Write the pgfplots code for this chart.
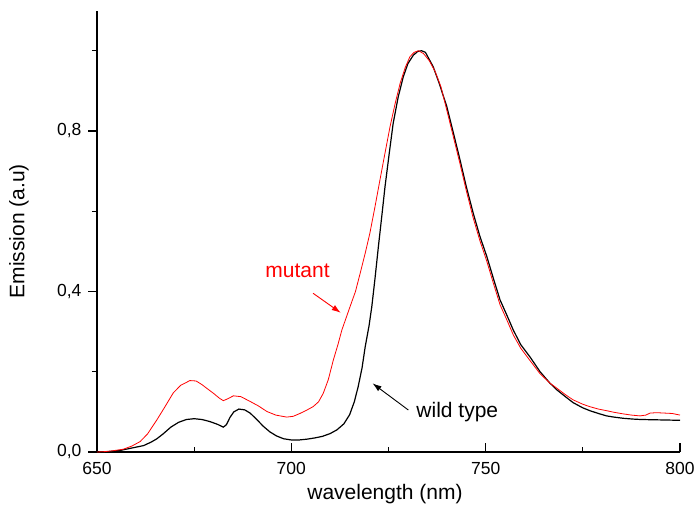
\documentclass[border=0pt]{standalone}
\usepackage{fontspec}
\setmainfont{Liberation Sans}
\usepackage{pgfplots}
\pgfplotsset{compat=1.18}
\usetikzlibrary{arrows.meta}
\newcommand{\chartfont}{\fontsize{21}{25}\selectfont}
\newcommand{\tickfont}{\fontsize{17.5}{21}\selectfont}
\begin{document}
\begin{tikzpicture}[font=\chartfont]
\begin{axis}[
 at={(0,0)}, anchor=south west,
 scale only axis, width=583pt, height=441.4pt,
 xmin=650, xmax=800, ymin=0, ymax=1.1,
 axis x line*=bottom, axis y line*=left,
 axis line style={line width=1.3pt, black},
 xtick={650,700,750,800}, xticklabels={650,700,750,800},
 minor xtick={675,725,775},
 ytick={0,0.4,0.8}, yticklabels={{0,0},{0,4},{0,8}},
 minor ytick={0.2,0.6,1.0},
 xtick align=inside, ytick align=outside,
 major tick length=9pt, minor tick length=5pt,
 tick style={line width=1.1pt, black},
 tick label style={font=\tickfont},
 xticklabel style={yshift=-7pt},
 yticklabel style={xshift=-3pt},
 label style={font=\chartfont},
 xlabel={wavelength (nm)},
 ylabel={Emission (a.u)},
 xlabel style={at={(axis description cs:0.494,-0.095)}, anchor=center},
 ylabel style={at={(axis description cs:-0.134,0.5)}, anchor=center},
]
\addplot[black, line width=1.2pt] coordinates {
(650,0) (653,0.001) (656,0.004) (658,0.008) (660,0.012) (662,0.016) (664,0.025)
(665.4,0.033) (667,0.045) (669,0.062) (671,0.074) (673,0.081) (675,0.083) (677,0.081)
(679,0.076) (681,0.069) (682.5,0.062) (683.3,0.068) (684.2,0.086) (685.2,0.100)
(686.5,0.107) (688,0.105) (689.4,0.097) (691,0.082) (692.8,0.064) (694.5,0.050)
(696.2,0.040) (698,0.033) (700,0.030) (702,0.030) (704,0.032) (706,0.035) (708,0.039)
(710,0.046) (711.7,0.055) (713.5,0.070) (715,0.093) (716.2,0.125) (717.2,0.163)
(718.2,0.21) (719,0.262) (720,0.315) (720.7,0.362) (721.5,0.43) (722.4,0.512)
(723.3,0.59) (724.1,0.661) (725.2,0.745) (726.2,0.819) (727.5,0.885) (728.8,0.935)
(730,0.968) (731.4,0.989) (732.5,0.998) (733.5,1.0) (734.5,0.996) (736.5,0.96)
(738,0.92) (740,0.861) (741.7,0.795) (743.4,0.728) (745,0.662) (746.8,0.595)
(748.5,0.538) (750.3,0.487) (752,0.432) (753.7,0.379) (755.5,0.34) (757.1,0.304)
(759,0.268) (761.4,0.237) (764,0.2) (766.5,0.172) (768.3,0.155) (770.5,0.138)
(772.5,0.123) (775,0.11) (776.8,0.103) (779,0.096) (781.1,0.09) (783,0.087)
(785.4,0.084) (788,0.082) (790,0.081) (795,0.08) (800,0.079)
};
\addplot[red, line width=0.8pt] coordinates {
(650,0) (652,0.001) (654,0.003) (656.8,0.007) (659,0.015) (661.1,0.026) (663,0.045)
(665.4,0.08) (667.5,0.113) (669.6,0.147) (671.5,0.166) (673.9,0.178) (675.5,0.177)
(677,0.168) (678.2,0.159) (680,0.146) (681.5,0.134) (682.5,0.128) (683.5,0.132)
(685.1,0.140) (687,0.138) (689.4,0.126) (691.5,0.115) (693.7,0.101) (696,0.092)
(698.8,0.087) (700.5,0.089) (702.2,0.096) (703.9,0.104) (705.6,0.113) (707,0.125)
(708.2,0.146) (709.5,0.18) (710.8,0.229) (712,0.268) (713,0.304) (715.1,0.362)
(716.5,0.4) (717.7,0.445) (719,0.495) (720.2,0.545) (721.5,0.61) (722.8,0.678)
(724.1,0.745) (725.4,0.811) (726.7,0.868) (728,0.919) (729.3,0.958) (730.5,0.985)
(731.6,0.996) (732.7,1.0) (734,0.993) (735.5,0.975) (737,0.948) (738.5,0.91)
(740,0.852) (741.7,0.785) (743.4,0.718) (745,0.652) (746.8,0.583) (748.5,0.527)
(750.3,0.475) (752,0.42) (753.7,0.367) (755.5,0.328) (757.1,0.292) (759,0.259)
(761.4,0.228) (764,0.195) (766.5,0.172) (768.3,0.159) (770.5,0.143) (772.5,0.13)
(775,0.119) (776.8,0.113) (779,0.107) (781.1,0.103) (783,0.099) (785.4,0.095)
(787.5,0.092) (789.7,0.09) (791.2,0.092) (792.3,0.097) (794,0.098) (796,0.097)
(798,0.096) (800,0.092)
};
\node[red, anchor=base, font=\chartfont] at (axis cs:701.6,0.436) {mutant};
\draw[red, line width=0.9pt, -{Latex[length=9pt,width=6pt]}] (axis cs:705.6,0.3955) -- (axis cs:712.7,0.347);
\node[black, anchor=base, font=\chartfont] at (axis cs:742.7,0.085) {wild type};
\draw[black, line width=0.9pt, -{Latex[length=9pt,width=6pt]}] (axis cs:730.1,0.1047) -- (axis cs:720.9,0.171);
\end{axis}
\pgfresetboundingbox
\path[use as bounding box] (-97pt,-63pt) rectangle (598pt,452pt);
\end{tikzpicture}
\end{document}
